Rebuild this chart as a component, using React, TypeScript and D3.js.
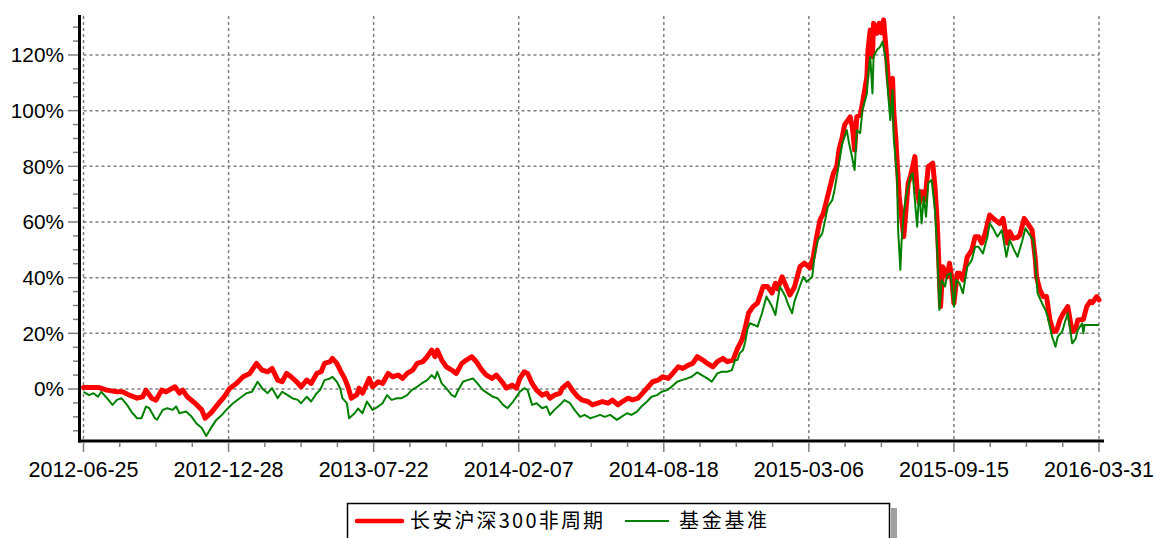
import React from 'react';
import * as d3 from 'd3';

// trading-day index (0..910) and cumulative return (%)
const TOTAL_DAYS = 910;
const dateLabels = ['2012-06-25', '2012-12-28', '2013-07-22', '2014-02-07', '2014-08-18', '2015-03-06', '2015-09-15', '2016-03-31'];
const yTickValues = [0, 20, 40, 60, 80, 100, 120];
const yMinorValues = [-15, -10, -5, 5, 10, 15, 25, 30, 35, 45, 50, 55, 65, 70, 75, 85, 90, 95, 105, 110, 115, 125, 130];
const legendNames = ['长安沪深300非周期', '基金基准'];

const fundDays = [0, 14, 21, 30, 35, 41, 48, 53, 56, 61, 65, 70, 74, 82, 86, 89, 93, 100, 106, 109, 115, 120, 126, 131, 137, 143, 149, 155, 160, 165, 169, 174, 178, 182, 186, 191, 195, 200, 204, 209, 213, 216, 221, 223, 227, 230, 234, 237, 240, 245, 247, 250, 254, 256, 259, 264, 268, 273, 277, 282, 286, 290, 295, 299, 304, 308, 312, 315, 317, 321, 325, 330, 334, 339, 343, 348, 352, 357, 361, 366, 370, 375, 379, 384, 388, 391, 395, 398, 402, 406, 411, 415, 418, 422, 427, 429, 434, 438, 443, 447, 452, 456, 461, 465, 470, 474, 479, 483, 488, 492, 497, 501, 506, 510, 515, 519, 524, 528, 533, 537, 542, 546, 550, 555, 559, 564, 568, 573, 577, 582, 586, 590, 593, 596, 600, 604, 609, 613, 617, 620, 622, 626, 629, 633, 637, 642, 646, 651, 654, 657, 660, 663, 666, 669, 672, 675, 677, 680, 682, 685, 687, 689, 691, 693, 696, 698, 700, 702, 703, 705, 707, 708, 711, 713, 715, 717, 719, 721, 724, 725, 726, 728, 729, 731, 733, 735, 737, 739, 741, 743, 745, 747, 749, 751, 754, 757, 759, 761, 763, 765, 767, 768, 770, 774, 776, 778, 780, 783, 785, 788, 792, 796, 799, 802, 805, 808, 812, 817, 821, 824, 828, 830, 833, 837, 839, 843, 846, 850, 853, 854, 857, 860, 863, 866, 869, 872, 875, 878, 882, 886, 889, 891, 896, 899, 902, 904, 908, 910];
const fundValues = [0.5, 0.5, -0.4, -1.0, -1.0, -2.2, -3.3, -2.8, -0.4, -3.3, -4.0, -0.4, -1.0, 0.8, -1.5, -0.4, -2.8, -5.1, -7.5, -10.5, -8.2, -5.7, -2.8, 0.2, 2.0, 4.4, 5.6, 9.2, 6.8, 6.2, 7.4, 3.2, 2.6, 5.6, 4.4, 2.6, 0.8, 3.2, 2.0, 5.6, 6.2, 9.2, 9.8, 11.0, 9.2, 6.8, 3.8, 0.8, -3.3, -2.0, 0.3, -1.5, 2.0, 3.8, 0.8, 2.6, 2.0, 5.6, 4.4, 5.0, 3.8, 5.6, 6.8, 9.2, 9.8, 11.6, 14.0, 11.6, 14.0, 10.4, 8.0, 6.8, 5.6, 9.2, 10.4, 11.6, 9.8, 6.8, 5.0, 3.8, 5.0, 2.6, 0.3, 1.4, 0.3, 3.8, 6.2, 5.6, 2.0, -0.4, -2.2, -1.5, -3.3, -2.2, -1.5, 0.3, 2.0, -0.4, -2.8, -4.0, -4.5, -5.7, -5.1, -4.5, -5.1, -4.0, -5.7, -4.5, -3.3, -3.9, -3.3, -1.5, 0.8, 2.6, 3.2, 4.4, 3.8, 5.6, 8.0, 7.4, 8.6, 9.2, 11.6, 10.4, 9.2, 8.0, 9.8, 11.0, 9.8, 10.4, 14.5, 17.6, 22.0, 27.3, 29.6, 30.9, 36.8, 36.8, 34.5, 38.0, 36.0, 40.3, 37.5, 33.8, 36.5, 43.9, 45.2, 43.5, 47.5, 54.7, 60.7, 63.1, 67.9, 72.7, 77.5, 79.9, 85.9, 90.6, 94.9, 96.6, 97.8, 94.0, 85.9, 97.8, 98.4, 102.6, 107.4, 112.2, 121.8, 129.0, 119.4, 131.4, 127.8, 131.4, 128.0, 132.6, 123.0, 112.2, 101.4, 111.6, 100.2, 89.5, 82.3, 69.1, 61.9, 54.7, 64.3, 73.9, 76.3, 79.9, 83.5, 71.5, 66.7, 70.9, 67.9, 79.9, 80.5, 81.1, 72.7, 60.0, 40.3, 29.6, 43.9, 40.3, 45.2, 40.0, 30.8, 41.6, 41.6, 39.2, 47.5, 49.9, 54.7, 54.7, 52.4, 55.9, 62.5, 60.7, 59.5, 61.3, 52.4, 56.5, 54.1, 54.5, 55.3, 61.3, 59.5, 57.1, 46.3, 40.3, 35.6, 33.2, 33.2, 24.8, 20.6, 21.0, 24.8, 27.2, 29.6, 20.6, 21.5, 24.8, 25.0, 29.6, 31.4, 31.0, 33.2, 32.0];

const benchDays = [0, 5, 9, 13, 16, 21, 26, 30, 34, 39, 43, 48, 52, 56, 59, 64, 66, 71, 75, 80, 83, 86, 92, 97, 101, 106, 110, 115, 119, 124, 128, 134, 140, 146, 151, 156, 160, 165, 169, 174, 178, 183, 187, 192, 195, 200, 204, 209, 212, 216, 221, 223, 227, 230, 232, 236, 238, 243, 246, 250, 254, 256, 259, 264, 268, 272, 276, 281, 285, 290, 294, 299, 303, 308, 312, 315, 317, 321, 325, 330, 333, 335, 340, 344, 349, 353, 358, 362, 367, 371, 376, 380, 385, 389, 391, 395, 398, 402, 406, 411, 415, 418, 422, 427, 431, 436, 440, 445, 449, 454, 458, 463, 467, 472, 478, 482, 487, 491, 496, 500, 505, 509, 514, 518, 523, 527, 532, 536, 541, 545, 550, 554, 559, 563, 568, 572, 577, 581, 584, 586, 588, 591, 593, 595, 597, 601, 604, 608, 612, 617, 620, 624, 629, 631, 635, 637, 642, 645, 648, 653, 655, 658, 662, 664, 667, 671, 673, 676, 680, 682, 684, 686, 688, 691, 693, 696, 698, 702, 703, 705, 707, 708, 711, 714, 716, 719, 721, 723, 725, 726, 729, 730, 732, 733, 735, 737, 739, 741, 743, 745, 747, 749, 751, 753, 755, 757, 760, 763, 765, 767, 769, 772, 774, 777, 780, 782, 785, 788, 792, 796, 799, 802, 806, 810, 812, 815, 819, 823, 827, 830, 834, 837, 841, 844, 847, 851, 853, 855, 859, 862, 864, 868, 871, 873, 877, 880, 882, 886, 889, 891, 895, 896, 897, 910];
const benchValues = [-1.0, -2.2, -1.5, -2.8, -1.0, -3.3, -5.7, -3.9, -3.3, -5.7, -8.2, -10.5, -10.5, -6.3, -6.9, -10.5, -11.0, -7.5, -6.9, -7.5, -6.3, -8.7, -8.1, -10.0, -12.3, -14.0, -16.9, -13.5, -11.1, -9.3, -7.5, -5.1, -3.3, -1.5, -1.0, 2.6, 0.3, -1.5, 0.3, -3.3, -1.0, -2.2, -3.3, -3.9, -5.1, -2.8, -4.5, -1.5, -0.4, 3.2, 3.8, 4.4, 2.6, 0.3, -3.3, -5.1, -10.5, -8.7, -7.0, -8.7, -4.5, -5.7, -7.5, -6.3, -5.1, -2.2, -3.9, -3.3, -3.3, -2.2, -0.4, 0.8, 2.0, 3.2, 5.0, 3.8, 6.2, 2.0, 0.3, -2.2, -2.8, -1.0, 2.6, 3.2, 3.8, 2.0, -0.4, -1.5, -2.8, -3.3, -5.7, -6.9, -4.5, -2.2, -1.0, 0.3, -0.4, -5.7, -5.1, -6.9, -6.3, -9.3, -7.5, -5.7, -4.0, -5.1, -7.5, -10.0, -9.3, -10.5, -10.0, -9.3, -10.0, -9.3, -11.1, -10.0, -8.7, -9.3, -8.1, -6.3, -4.5, -2.8, -2.2, -1.0, -0.4, 0.8, 2.6, 3.2, 3.8, 4.4, 6.0, 5.0, 3.8, 2.6, 5.6, 6.2, 6.2, 6.8, 10.4, 10.4, 12.8, 14.0, 17.0, 21.5, 23.6, 23.0, 22.4, 27.2, 33.2, 29.6, 26.6, 36.8, 33.2, 30.8, 27.2, 31.4, 37.0, 40.3, 38.5, 40.3, 47.5, 53.5, 55.9, 59.5, 65.5, 67.9, 71.5, 78.7, 88.3, 90.6, 93.0, 88.3, 84.7, 78.7, 93.0, 91.9, 100.2, 106.2, 112.2, 119.4, 106.2, 119.4, 121.8, 123.0, 124.8, 118.2, 106.2, 96.6, 107.4, 90.6, 76.3, 57.1, 42.8, 52.4, 63.1, 69.1, 72.7, 76.3, 77.5, 67.9, 58.3, 71.5, 59.5, 69.1, 61.9, 74.0, 75.1, 64.3, 50.0, 28.4, 39.2, 36.8, 41.0, 41.6, 29.6, 39.2, 38.0, 34.4, 43.9, 46.3, 51.1, 51.1, 48.7, 54.7, 59.5, 57.7, 54.7, 57.1, 47.5, 53.5, 49.9, 47.5, 52.9, 57.7, 55.9, 53.5, 45.2, 34.4, 30.8, 28.4, 26.0, 18.8, 15.2, 18.8, 20.6, 24.8, 27.2, 16.4, 18.0, 21.2, 23.6, 20.0, 23.0, 23.0];

const W = 1154;
const H = 538;
const X0 = 83.5;
const X1 = 1099;
const Y_TOP = 16;
const Y_BOTTOM = 441;
const FONT = "Arial, 'Liberation Sans', sans-serif";
const CJK = "'Noto Sans CJK SC', sans-serif";

export default function App() {
  const x = d3.scaleLinear().domain([0, TOTAL_DAYS]).range([X0, X1]);
  const y = d3.scaleLinear().domain([-18.68, 134]).range([Y_BOTTOM, Y_TOP]);

  const mkLine = (days: number[], vals: number[]) =>
    d3.line<number>().x((_, i) => x(days[i])).y((v) => y(v))(vals) || '';

  const majorDays = dateLabels.map((_, i) => (i * TOTAL_DAYS) / (dateLabels.length - 1));
  const minorDays: number[] = [];
  for (let i = 0; i < dateLabels.length - 1; i++) {
    for (let k = 1; k < 4; k++) minorDays.push(majorDays[i] + (k * (majorDays[i + 1] - majorDays[i])) / 4);
  }

  return (
    <svg width={W} height={H} style={{ position: 'absolute', left: 0, top: 0, background: '#fff' }}>
      <rect x={0} y={0} width={W} height={H} fill="#fff" />
      {yTickValues.map((v) => (
        <line key={'hg' + v} x1={X0} x2={X1} y1={y(v)} y2={y(v)} stroke="#808080" strokeWidth={1.5} strokeDasharray="3,3" />
      ))}
      {majorDays.map((d, i) => (
        <line key={'vg' + i} x1={x(d)} x2={x(d)} y1={Y_TOP} y2={Y_BOTTOM} stroke="#808080" strokeWidth={1.5} strokeDasharray="3,3" />
      ))}
      {yMinorValues.map((v) => (
        <line key={'ym' + v} x1={73} x2={78} y1={y(v)} y2={y(v)} stroke="#808080" strokeWidth={1.5} />
      ))}
      {yTickValues.map((v) => (
        <g key={'yt' + v}>
          <line x1={68} x2={78} y1={y(v)} y2={y(v)} stroke="#808080" strokeWidth={1.5} />
          <text x={64} y={y(v)} dy="0.36em" textAnchor="end" fontFamily={FONT} fontSize={20.8} fill="#000">
            {v + '%'}
          </text>
        </g>
      ))}
      {minorDays.map((d, i) => (
        <line key={'xm' + i} x1={x(d)} x2={x(d)} y1={443} y2={447} stroke="#808080" strokeWidth={1.5} />
      ))}
      {majorDays.map((d, i) => (
        <g key={'xt' + i}>
          <line x1={x(d)} x2={x(d)} y1={443} y2={452} stroke="#808080" strokeWidth={1.5} />
          <text x={x(d)} y={477} textAnchor="middle" fontFamily={FONT} fontSize={21.5} fill="#000">
            {dateLabels[i]}
          </text>
        </g>
      ))}
      <path d={mkLine(fundDays, fundValues)} fill="none" stroke="#ff0000" strokeWidth={5} strokeLinejoin="round" strokeLinecap="round" />
      <path d={mkLine(benchDays, benchValues)} fill="none" stroke="#008000" strokeWidth={2} strokeLinejoin="round" />
      <line x1={79.5} x2={79.5} y1={15} y2={442.5} stroke="#000" strokeWidth={3} />
      <line x1={78} x2={1104} y1={441} y2={441} stroke="#000" strokeWidth={3} />
      <rect x={891} y={508} width={6} height={40} fill="#a0a0a0" />
      <rect x={347.5} y={503.5} width={542} height={50} fill="#fff" stroke="#000" strokeWidth={1.5} />
      <line x1={357} x2={402} y1={521} y2={521} stroke="#ff0000" strokeWidth={4.5} strokeLinecap="round" />
      <text x={410} y={528} fontFamily={CJK} fontSize={20} letterSpacing={2.2} fill="#000">
        {legendNames[0]}
      </text>
      <line x1={625} x2={669} y1={521} y2={521} stroke="#008000" strokeWidth={2} />
      <text x={679} y={528} fontFamily={CJK} fontSize={20} letterSpacing={2.7} fill="#000">
        {legendNames[1]}
      </text>
    </svg>
  );
}
